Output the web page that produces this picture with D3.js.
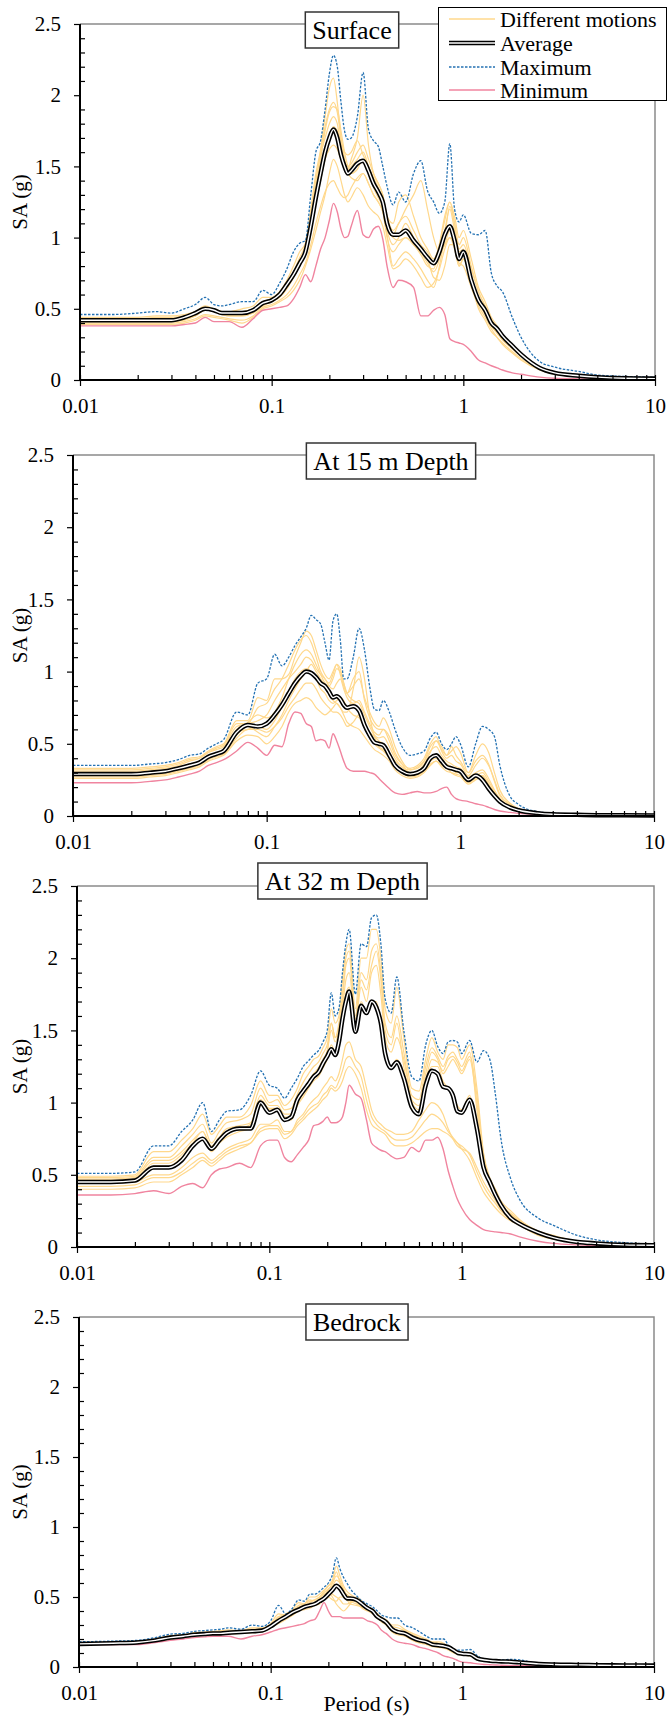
<!DOCTYPE html>
<html>
<head>
<meta charset="utf-8">
<script src="https://cdn.jsdelivr.net/npm/d3@7/dist/d3.min.js"></script>
<style>
  body { margin: 0; background: #fff; }
  svg { display: block; }
</style>
</head>
<body>
<svg id="chart" width="667" height="1716"></svg>
<script>
// ---- data ----
const periods = [0.01,0.015,0.02,0.025,0.03,0.035,0.04,0.045,0.05,0.055,
  0.06,0.07,0.08,0.09,0.1,0.11,0.12,0.13,0.14,0.15,
  0.16,0.17,0.18,0.19,0.2,0.21,0.22,0.23,0.24,0.25,
  0.26,0.28,0.3,0.32,0.34,0.36,0.38,0.4,0.43,0.46,
  0.5,0.55,0.6,0.65,0.7,0.75,0.8,0.85,0.9,0.95,
  1.0,1.1,1.2,1.3,1.4,1.5,1.6,1.8,2.0,2.5,
  3.0,4.0,5.0,7.0,10];

const xTicks = [0.01, 0.1, 1, 10];
const xTickLabels = ["0.01", "0.1", "1", "10"];
const yTicks = [0, 0.5, 1, 1.5, 2, 2.5];
const yTickLabels = ["0", "0.5", "1", "1.5", "2", "2.5"];
const panelTitles = ["Surface", "At 15 m Depth", "At 32 m Depth", "Bedrock"];
const legendLabels = ["Different motions", "Average", "Maximum", "Minimum"];

// Surface
const surfaceMax = [0.46,0.46,0.47,0.48,0.47,0.50,0.53,0.58,0.53,0.52,
  0.53,0.55,0.55,0.63,0.60,0.68,0.78,0.90,0.96,0.98,
  1.30,1.60,1.68,1.90,2.15,2.28,2.20,1.95,1.75,1.69,
  1.70,1.85,2.16,1.76,1.68,1.64,1.50,1.36,1.23,1.32,
  1.25,1.45,1.54,1.33,1.25,1.17,1.25,1.66,1.20,1.11,
  1.16,1.03,1.02,1.05,0.75,0.66,0.62,0.44,0.30,0.13,
  0.09,0.06,0.035,0.025,0.02];
const surfaceAvg = [0.42,0.42,0.42,0.42,0.42,0.44,0.47,0.50,0.49,0.47,
  0.47,0.47,0.49,0.54,0.56,0.60,0.67,0.74,0.82,0.90,
  1.08,1.28,1.45,1.60,1.70,1.76,1.70,1.58,1.50,1.45,
  1.47,1.52,1.54,1.47,1.38,1.32,1.25,1.10,1.02,1.02,
  1.05,0.98,0.92,0.86,0.82,0.90,1.02,1.08,0.98,0.85,
  0.90,0.70,0.56,0.49,0.40,0.36,0.31,0.24,0.18,0.085,
  0.05,0.03,0.02,0.012,0.01];
const surfaceMin = [0.38,0.38,0.38,0.38,0.38,0.39,0.40,0.44,0.41,0.41,
  0.41,0.37,0.43,0.49,0.50,0.51,0.52,0.57,0.65,0.74,
  0.69,0.80,0.92,1.00,1.12,1.24,1.18,1.06,1.00,1.01,
  1.08,1.19,1.02,1.00,1.06,1.08,0.99,0.80,0.65,0.70,
  0.69,0.65,0.45,0.45,0.49,0.51,0.46,0.29,0.27,0.26,
  0.25,0.20,0.14,0.12,0.10,0.085,0.07,0.05,0.04,0.02,
  0.012,0.008,0.006,0.004,0.003];
const surfaceMotions = [
  [0.44,0.44,0.44,0.45,0.45,0.46,0.48,0.52,0.50,0.48, 0.48,0.50,0.52,0.58,0.58,0.62,0.70,0.80,0.90,0.96,
   1.20,1.45,1.62,1.85,2.05,2.12,1.95,1.70,1.55,1.48, 1.50,1.55,1.60,1.50,1.40,1.30,1.20,1.05,0.95,1.00,
   1.10,1.00,0.90,0.82,0.76,0.85,1.05,1.20,1.05,0.90, 0.92,0.72,0.55,0.46,0.38,0.33,0.28,0.22,0.17,0.08, 0.05,0.03,0.02,0.012,0.01],
  [0.41,0.41,0.41,0.41,0.41,0.42,0.45,0.49,0.48,0.46, 0.45,0.45,0.47,0.52,0.55,0.58,0.64,0.72,0.80,0.88,
   1.05,1.25,1.40,1.55,1.62,1.65,1.62,1.55,1.50,1.48, 1.55,1.70,2.00,1.65,1.45,1.38,1.30,1.15,1.05,1.10,
   1.20,1.30,1.40,1.20,1.00,0.90,0.95,1.00,0.92,0.80, 0.85,0.72,0.58,0.50,0.42,0.36,0.30,0.24,0.18,0.09, 0.05,0.03,0.02,0.012,0.01],
  [0.43,0.43,0.43,0.43,0.43,0.44,0.47,0.51,0.50,0.48, 0.47,0.48,0.50,0.55,0.56,0.60,0.66,0.74,0.84,0.92,
   1.10,1.35,1.55,1.75,1.88,1.92,1.90,1.75,1.60,1.50, 1.45,1.48,1.55,1.45,1.35,1.28,1.22,1.08,1.00,0.98,
   1.00,0.95,0.88,0.80,0.78,0.95,1.15,1.25,1.10,0.92, 0.95,0.78,0.62,0.52,0.42,0.36,0.31,0.24,0.18,0.09, 0.05,0.03,0.02,0.012,0.01],
  [0.40,0.40,0.40,0.40,0.40,0.41,0.43,0.46,0.45,0.44, 0.43,0.42,0.45,0.51,0.53,0.56,0.60,0.66,0.74,0.82,
   0.95,1.10,1.22,1.32,1.38,1.40,1.35,1.30,1.28,1.30, 1.35,1.42,1.45,1.38,1.30,1.25,1.18,1.02,0.80,0.85,
   0.90,0.85,0.78,0.70,0.65,0.80,1.00,1.22,1.10,0.95, 1.00,0.80,0.62,0.52,0.42,0.36,0.30,0.24,0.18,0.09, 0.05,0.03,0.02,0.012,0.01],
  [0.42,0.42,0.42,0.42,0.42,0.43,0.46,0.50,0.49,0.47, 0.46,0.46,0.48,0.53,0.55,0.59,0.65,0.73,0.82,0.90,
   1.05,1.25,1.42,1.58,1.70,1.78,1.75,1.68,1.60,1.58, 1.60,1.68,1.58,1.50,1.42,1.35,1.25,1.08,1.02,1.10,
   1.15,1.05,0.95,0.90,0.82,0.88,0.95,1.05,0.98,0.85, 0.88,0.70,0.55,0.47,0.38,0.33,0.29,0.22,0.17,0.08, 0.05,0.03,0.02,0.012,0.01],
  [0.42,0.42,0.42,0.42,0.42,0.43,0.45,0.49,0.48,0.46, 0.45,0.45,0.47,0.53,0.55,0.59,0.65,0.72,0.82,0.92,
   1.15,1.40,1.58,1.70,1.80,1.85,1.80,1.62,1.50,1.45, 1.42,1.40,1.45,1.38,1.30,1.25,1.18,1.00,0.90,0.95,
   1.00,0.95,0.90,0.85,0.72,0.70,0.80,0.95,0.95,0.82, 0.80,0.65,0.52,0.44,0.36,0.30,0.26,0.20,0.15,0.075, 0.045,0.025,0.015,0.01,0.008],
  [0.43,0.43,0.43,0.44,0.44,0.45,0.47,0.50,0.49,0.47, 0.47,0.47,0.49,0.55,0.57,0.61,0.68,0.76,0.86,0.95,
   1.15,1.40,1.60,1.78,1.90,1.95,1.88,1.70,1.55,1.50, 1.52,1.60,1.65,1.55,1.45,1.38,1.30,1.15,1.10,1.25,
   1.30,1.15,1.00,0.92,0.85,0.95,1.12,1.25,1.15,1.00, 1.05,0.85,0.65,0.55,0.44,0.38,0.32,0.25,0.19,0.09, 0.05,0.03,0.02,0.012,0.01],
  [0.39,0.39,0.39,0.39,0.39,0.40,0.42,0.45,0.44,0.43, 0.42,0.40,0.44,0.50,0.52,0.55,0.58,0.63,0.70,0.80,
   0.92,1.05,1.18,1.30,1.45,1.55,1.50,1.40,1.30,1.25, 1.28,1.35,1.30,1.22,1.18,1.15,1.08,0.95,0.78,0.80,
   0.85,0.80,0.72,0.65,0.68,0.78,0.92,1.00,0.95,0.80, 0.85,0.68,0.50,0.42,0.34,0.30,0.25,0.19,0.14,0.07, 0.04,0.025,0.015,0.01,0.008]
];

// At 15 m depth
const depth15Max = [0.35,0.35,0.35,0.36,0.37,0.39,0.42,0.43,0.47,0.50,
  0.53,0.72,0.70,0.92,0.95,1.12,1.04,1.10,1.18,1.24,
  1.30,1.39,1.36,1.33,1.20,1.08,1.35,1.40,1.22,0.95,
  0.95,1.10,1.30,1.15,0.90,0.74,0.73,0.80,0.72,0.60,
  0.48,0.42,0.43,0.45,0.54,0.58,0.50,0.46,0.50,0.55,
  0.50,0.34,0.50,0.62,0.60,0.55,0.35,0.14,0.08,0.03,
  0.02,0.012,0.01,0.008,0.007];
const depth15Avg = [0.29,0.29,0.29,0.30,0.31,0.33,0.35,0.37,0.41,0.43,
  0.45,0.58,0.63,0.62,0.64,0.70,0.77,0.85,0.92,0.97,
  1.00,0.99,0.96,0.92,0.90,0.86,0.82,0.83,0.81,0.77,
  0.75,0.76,0.73,0.63,0.56,0.51,0.50,0.49,0.42,0.35,
  0.31,0.29,0.30,0.33,0.40,0.42,0.38,0.34,0.33,0.32,
  0.31,0.25,0.28,0.25,0.19,0.14,0.10,0.06,0.04,0.02,
  0.012,0.008,0.006,0.005,0.004];
const depth15Min = [0.23,0.23,0.23,0.24,0.25,0.27,0.29,0.31,0.35,0.37,
  0.39,0.45,0.51,0.47,0.42,0.49,0.48,0.64,0.72,0.71,
  0.64,0.62,0.52,0.53,0.52,0.47,0.57,0.52,0.45,0.38,
  0.33,0.31,0.31,0.31,0.30,0.29,0.26,0.23,0.19,0.16,
  0.15,0.16,0.17,0.16,0.16,0.17,0.19,0.20,0.15,0.12,
  0.11,0.10,0.085,0.075,0.06,0.045,0.035,0.025,0.018,0.01,
  0.006,0.004,0.003,0.002,0.002];
const depth15Motions = [
  [0.33,0.33,0.33,0.34,0.35,0.37,0.40,0.41,0.45,0.48, 0.50,0.66,0.66,0.82,0.80,0.95,0.95,0.98,1.10,1.20,
   1.28,1.25,1.15,1.05,0.98,0.95,1.00,1.05,0.98,0.90, 0.85,0.95,1.00,0.80,0.68,0.62,0.60,0.60,0.52,0.42,
   0.36,0.33,0.35,0.40,0.50,0.55,0.45,0.40,0.42,0.38, 0.36,0.28,0.35,0.40,0.35,0.25,0.15,0.08,0.05,0.02, 0.012,0.008,0.006,0.005,0.004],
  [0.30,0.30,0.30,0.31,0.32,0.34,0.36,0.38,0.42,0.44, 0.46,0.60,0.65,0.70,0.68,0.72,0.82,0.95,1.05,1.12,
   1.15,1.12,1.05,0.98,0.92,0.90,0.95,1.02,1.00,0.92, 0.85,0.80,0.78,0.70,0.62,0.56,0.54,0.55,0.48,0.40,
   0.34,0.32,0.34,0.38,0.45,0.48,0.42,0.38,0.36,0.34, 0.33,0.27,0.30,0.32,0.26,0.18,0.12,0.07,0.045,0.02, 0.012,0.008,0.006,0.005,0.004],
  [0.28,0.28,0.28,0.29,0.30,0.32,0.34,0.36,0.40,0.42, 0.44,0.56,0.62,0.58,0.55,0.62,0.70,0.80,0.88,0.95,
   1.00,1.05,1.00,0.95,0.90,0.85,0.80,0.78,0.75,0.72, 0.72,0.88,1.10,0.95,0.70,0.55,0.48,0.46,0.42,0.38,
   0.34,0.30,0.30,0.33,0.38,0.40,0.36,0.33,0.32,0.31, 0.32,0.26,0.28,0.30,0.24,0.17,0.11,0.065,0.04,0.018, 0.011,0.007,0.005,0.004,0.003],
  [0.26,0.26,0.26,0.27,0.28,0.30,0.32,0.34,0.38,0.40, 0.42,0.52,0.56,0.55,0.50,0.55,0.62,0.72,0.78,0.80,
   0.82,0.80,0.75,0.72,0.70,0.72,0.75,0.78,0.75,0.70, 0.65,0.62,0.60,0.55,0.50,0.46,0.44,0.42,0.38,0.32,
   0.28,0.26,0.27,0.30,0.35,0.38,0.35,0.33,0.30,0.28, 0.27,0.22,0.25,0.27,0.20,0.14,0.09,0.055,0.035,0.016, 0.01,0.007,0.005,0.004,0.003],
  [0.31,0.31,0.31,0.32,0.33,0.35,0.38,0.40,0.44,0.46, 0.48,0.62,0.64,0.66,0.70,0.80,0.88,0.95,1.00,1.05,
   1.10,1.08,1.02,0.98,0.95,0.90,0.88,0.92,0.95,0.88, 0.82,0.78,0.80,0.72,0.64,0.58,0.56,0.60,0.55,0.44,
   0.36,0.30,0.31,0.36,0.44,0.52,0.48,0.42,0.48,0.42, 0.38,0.30,0.38,0.42,0.36,0.24,0.14,0.08,0.05,0.02, 0.012,0.008,0.006,0.005,0.004],
  [0.29,0.29,0.29,0.30,0.31,0.33,0.35,0.37,0.41,0.43, 0.45,0.58,0.60,0.62,0.60,0.66,0.76,0.86,0.95,1.00,
   1.02,1.00,0.95,0.88,0.85,0.80,0.78,0.80,0.82,0.80, 0.75,0.70,0.68,0.62,0.58,0.55,0.52,0.50,0.44,0.36,
   0.30,0.28,0.29,0.32,0.40,0.42,0.40,0.36,0.34,0.30, 0.30,0.24,0.27,0.28,0.22,0.16,0.10,0.06,0.04,0.018, 0.011,0.007,0.005,0.004,0.003],
  [0.32,0.32,0.32,0.33,0.34,0.36,0.39,0.40,0.44,0.47, 0.49,0.64,0.64,0.75,0.78,0.88,0.95,1.05,1.15,1.22,
   1.25,1.20,1.10,1.00,0.95,0.92,0.98,1.05,1.02,0.92, 0.85,0.90,0.95,0.82,0.72,0.65,0.62,0.68,0.60,0.48,
   0.38,0.32,0.33,0.38,0.48,0.52,0.46,0.42,0.45,0.48, 0.44,0.30,0.42,0.50,0.44,0.30,0.18,0.09,0.05,0.02, 0.012,0.008,0.006,0.005,0.004],
  [0.27,0.27,0.27,0.28,0.29,0.31,0.33,0.35,0.39,0.41, 0.43,0.54,0.60,0.60,0.58,0.62,0.68,0.76,0.82,0.88,
   0.92,0.92,0.88,0.82,0.78,0.75,0.72,0.72,0.70,0.66, 0.62,0.65,0.70,0.62,0.55,0.50,0.47,0.45,0.40,0.34,
   0.30,0.27,0.28,0.31,0.36,0.38,0.34,0.31,0.30,0.29, 0.28,0.23,0.26,0.28,0.22,0.15,0.10,0.06,0.038,0.017, 0.01,0.007,0.005,0.004,0.003]
];

// At 32 m depth
const depth32Max = [0.51,0.51,0.52,0.70,0.70,0.80,0.88,1.00,0.80,0.88,
  0.94,0.95,1.05,1.22,1.12,1.10,1.03,1.10,1.17,1.25,
  1.29,1.33,1.36,1.42,1.50,1.76,1.60,1.65,1.90,2.10,
  2.20,1.75,2.10,2.08,2.28,2.30,2.10,1.72,1.62,1.87,
  1.50,1.18,1.15,1.40,1.50,1.39,1.34,1.42,1.43,1.42,
  1.34,1.43,1.28,1.36,1.30,1.05,0.75,0.47,0.33,0.20,
  0.15,0.08,0.05,0.03,0.02];
const depth32Avg = [0.45,0.45,0.46,0.55,0.55,0.60,0.70,0.75,0.68,0.74,
  0.79,0.82,0.82,1.00,0.93,0.95,0.88,0.90,1.02,1.08,
  1.13,1.18,1.21,1.27,1.32,1.37,1.33,1.42,1.58,1.70,
  1.77,1.49,1.67,1.62,1.70,1.66,1.55,1.34,1.24,1.28,
  1.17,0.97,0.92,1.12,1.22,1.20,1.11,1.10,1.05,0.94,
  0.93,1.02,0.82,0.55,0.45,0.36,0.29,0.20,0.16,0.10,
  0.065,0.035,0.025,0.015,0.012];
const depth32Min = [0.36,0.36,0.37,0.39,0.37,0.42,0.44,0.41,0.50,0.54,
  0.55,0.58,0.55,0.70,0.74,0.74,0.62,0.59,0.64,0.69,
  0.74,0.84,0.85,0.87,0.90,0.86,0.86,0.87,0.90,1.00,
  1.12,1.06,1.03,0.88,0.72,0.69,0.67,0.66,0.63,0.61,
  0.62,0.69,0.66,0.74,0.74,0.76,0.68,0.53,0.42,0.33,
  0.27,0.19,0.15,0.12,0.11,0.105,0.10,0.09,0.07,0.04,
  0.025,0.015,0.01,0.008,0.006];
const depth32Motions = [
  [0.49,0.49,0.50,0.66,0.66,0.74,0.82,0.92,0.78,0.84, 0.90,0.90,0.98,1.15,1.05,1.05,0.98,1.02,1.10,1.20,
   1.25,1.30,1.32,1.38,1.45,1.65,1.55,1.60,1.85,2.05, 2.10,1.65,2.00,2.00,2.20,2.20,2.00,1.65,1.55,1.80,
   1.45,1.10,1.08,1.30,1.45,1.35,1.30,1.40,1.40,1.38, 1.30,1.40,1.10,0.65,0.48,0.40,0.32,0.25,0.19,0.11, 0.08,0.04,0.025,0.015,0.012],
  [0.48,0.48,0.49,0.62,0.62,0.70,0.78,0.85,0.72,0.80, 0.86,0.88,0.92,1.10,1.00,1.02,0.95,0.96,1.06,1.14,
   1.20,1.25,1.28,1.34,1.40,1.55,1.45,1.55,1.75,2.00, 2.05,1.60,1.90,1.85,2.05,2.10,1.90,1.55,1.45,1.60,
   1.35,1.05,1.02,1.25,1.38,1.32,1.25,1.32,1.35,1.30, 1.25,1.35,0.95,0.60,0.45,0.38,0.30,0.23,0.18,0.10, 0.07,0.035,0.022,0.014,0.011],
  [0.46,0.46,0.47,0.56,0.56,0.62,0.70,0.76,0.66,0.72, 0.76,0.80,0.82,0.98,0.95,0.95,0.88,0.88,0.98,1.04,
   1.10,1.15,1.18,1.24,1.30,1.40,1.35,1.42,1.58,1.75, 1.80,1.50,1.70,1.62,1.70,1.70,1.55,1.35,1.25,1.30,
   1.20,1.00,0.95,1.15,1.25,1.25,1.15,1.10,1.05,0.98, 0.95,1.05,0.80,0.55,0.42,0.35,0.28,0.22,0.17,0.10, 0.07,0.035,0.025,0.015,0.012],
  [0.44,0.44,0.45,0.50,0.50,0.55,0.62,0.65,0.60,0.64, 0.68,0.72,0.75,0.85,0.85,0.88,0.80,0.80,0.88,0.92,
   0.98,1.02,1.05,1.10,1.14,1.18,1.15,1.20,1.30,1.40, 1.42,1.30,1.25,1.10,0.95,0.88,0.85,0.82,0.80,0.78,
   0.78,0.80,0.88,0.95,1.00,0.98,0.92,0.82,0.75,0.70, 0.68,0.65,0.55,0.45,0.38,0.32,0.26,0.20,0.16,0.09, 0.06,0.03,0.02,0.012,0.01],
  [0.40,0.40,0.41,0.45,0.45,0.50,0.55,0.60,0.56,0.60, 0.64,0.68,0.72,0.80,0.82,0.82,0.75,0.78,0.84,0.88,
   0.92,0.95,0.98,1.02,1.05,1.10,1.08,1.10,1.15,1.22, 1.25,1.20,1.10,0.95,0.85,0.82,0.80,0.78,0.72,0.70,
   0.70,0.72,0.76,0.80,0.82,0.82,0.80,0.78,0.75,0.72, 0.68,0.60,0.48,0.38,0.32,0.27,0.23,0.18,0.15,0.08, 0.055,0.03,0.02,0.012,0.01],
  [0.47,0.47,0.48,0.60,0.60,0.66,0.74,0.80,0.70,0.76, 0.82,0.84,0.86,1.05,0.98,0.98,0.92,0.92,1.02,1.08,
   1.15,1.20,1.24,1.30,1.36,1.50,1.42,1.50,1.65,1.85, 1.90,1.55,1.80,1.70,1.90,1.95,1.75,1.45,1.35,1.45,
   1.30,1.02,0.98,1.20,1.35,1.30,1.20,1.25,1.30,1.25, 1.20,1.30,1.00,0.60,0.45,0.37,0.30,0.23,0.18,0.10, 0.07,0.035,0.022,0.014,0.011],
  [0.45,0.45,0.46,0.58,0.58,0.64,0.72,0.80,0.68,0.74, 0.80,0.82,0.85,1.02,0.96,0.96,0.90,0.90,1.00,1.06,
   1.12,1.18,1.22,1.28,1.35,1.55,1.45,1.52,1.70,1.95, 2.00,1.58,1.85,1.78,1.95,2.05,1.85,1.50,1.40,1.55,
   1.25,0.95,0.92,1.15,1.30,1.28,1.22,1.30,1.32,1.28, 1.22,1.32,1.05,0.62,0.46,0.38,0.30,0.23,0.18,0.10, 0.07,0.035,0.022,0.014,0.011],
  [0.42,0.42,0.43,0.48,0.48,0.52,0.58,0.62,0.58,0.62, 0.66,0.70,0.72,0.82,0.84,0.84,0.78,0.80,0.86,0.90,
   0.95,0.98,1.00,1.05,1.08,1.12,1.10,1.15,1.22,1.30, 1.32,1.25,1.18,1.02,0.90,0.85,0.82,0.80,0.76,0.74,
   0.74,0.76,0.82,0.88,0.92,0.90,0.86,0.80,0.76,0.72, 0.70,0.64,0.52,0.42,0.35,0.30,0.25,0.19,0.155,0.085, 0.058,0.03,0.02,0.012,0.01]
];

// Bedrock
const bedrockMax = [0.18,0.185,0.19,0.21,0.235,0.24,0.255,0.26,0.265,0.27,
  0.28,0.27,0.30,0.29,0.33,0.44,0.38,0.42,0.48,0.47,
  0.52,0.52,0.54,0.57,0.60,0.66,0.78,0.70,0.64,0.60,
  0.56,0.51,0.47,0.45,0.43,0.40,0.37,0.36,0.35,0.35,
  0.30,0.28,0.25,0.22,0.20,0.20,0.20,0.15,0.12,0.12,
  0.12,0.125,0.08,0.055,0.05,0.05,0.05,0.055,0.05,0.025,
  0.02,0.018,0.016,0.014,0.013];
const bedrockAvg = [0.165,0.17,0.175,0.19,0.21,0.22,0.23,0.235,0.24,0.24,
  0.245,0.25,0.255,0.26,0.29,0.33,0.36,0.39,0.41,0.43,
  0.44,0.45,0.47,0.49,0.52,0.55,0.58,0.56,0.52,0.49,
  0.49,0.48,0.45,0.42,0.40,0.36,0.34,0.32,0.27,0.25,
  0.24,0.21,0.19,0.18,0.16,0.155,0.15,0.14,0.12,0.10,
  0.095,0.09,0.06,0.05,0.045,0.042,0.04,0.038,0.033,0.022,
  0.018,0.015,0.013,0.011,0.01];
const bedrockMin = [0.16,0.16,0.16,0.175,0.19,0.20,0.21,0.215,0.22,0.22,
  0.22,0.20,0.22,0.23,0.25,0.27,0.28,0.29,0.30,0.31,
  0.33,0.34,0.40,0.46,0.40,0.36,0.36,0.36,0.35,0.35,
  0.35,0.35,0.35,0.33,0.32,0.30,0.26,0.24,0.20,0.18,
  0.17,0.16,0.14,0.13,0.115,0.10,0.08,0.07,0.06,0.045,
  0.035,0.03,0.022,0.018,0.016,0.014,0.013,0.011,0.01,0.008,
  0.007,0.006,0.005,0.005,0.005];
const bedrockMotions = [
  [0.175,0.18,0.185,0.20,0.225,0.23,0.245,0.25,0.255,0.26, 0.265,0.26,0.28,0.28,0.31,0.38,0.37,0.41,0.46,0.45,
   0.50,0.50,0.52,0.55,0.58,0.62,0.72,0.65,0.58,0.54, 0.52,0.49,0.46,0.43,0.41,0.38,0.35,0.34,0.30,0.30,
   0.27,0.24,0.22,0.20,0.18,0.18,0.17,0.14,0.12,0.11, 0.10,0.10,0.07,0.052,0.047,0.045,0.044,0.045,0.04,0.024, 0.019,0.016,0.014,0.012,0.011],
  [0.17,0.175,0.18,0.195,0.215,0.225,0.235,0.24,0.245,0.25, 0.25,0.255,0.26,0.27,0.30,0.34,0.38,0.40,0.43,0.44,
   0.46,0.48,0.50,0.54,0.58,0.60,0.65,0.62,0.56,0.50, 0.48,0.47,0.44,0.42,0.40,0.37,0.34,0.32,0.28,0.26,
   0.25,0.22,0.20,0.18,0.17,0.16,0.155,0.14,0.12,0.10, 0.095,0.09,0.06,0.05,0.045,0.042,0.04,0.04,0.035,0.022, 0.018,0.015,0.013,0.011,0.01],
  [0.16,0.165,0.17,0.185,0.20,0.215,0.225,0.23,0.235,0.235, 0.24,0.24,0.25,0.255,0.28,0.32,0.35,0.37,0.40,0.42,
   0.43,0.44,0.46,0.50,0.55,0.52,0.50,0.48,0.45,0.45, 0.46,0.48,0.44,0.41,0.39,0.36,0.33,0.31,0.26,0.24,
   0.23,0.20,0.18,0.17,0.155,0.15,0.14,0.13,0.11,0.095, 0.09,0.085,0.055,0.048,0.043,0.04,0.038,0.037,0.032,0.021, 0.017,0.014,0.012,0.011,0.01],
  [0.165,0.17,0.175,0.19,0.21,0.22,0.23,0.235,0.24,0.24, 0.245,0.25,0.255,0.26,0.29,0.33,0.36,0.39,0.42,0.43,
   0.45,0.46,0.49,0.52,0.53,0.50,0.45,0.42,0.40,0.42, 0.45,0.50,0.47,0.43,0.40,0.37,0.34,0.32,0.27,0.25,
   0.24,0.21,0.19,0.175,0.16,0.15,0.145,0.135,0.115,0.10, 0.092,0.088,0.058,0.05,0.044,0.041,0.039,0.038,0.033,0.021, 0.017,0.014,0.012,0.011,0.01],
  [0.17,0.175,0.18,0.195,0.21,0.22,0.235,0.24,0.245,0.245, 0.25,0.25,0.26,0.265,0.30,0.35,0.38,0.40,0.42,0.45,
   0.48,0.47,0.48,0.50,0.55,0.60,0.68,0.60,0.52,0.48, 0.45,0.44,0.43,0.42,0.40,0.36,0.33,0.31,0.26,0.24,
   0.24,0.21,0.19,0.18,0.16,0.155,0.15,0.14,0.12,0.10, 0.095,0.09,0.06,0.05,0.045,0.042,0.04,0.04,0.034,0.022, 0.018,0.015,0.013,0.011,0.01],
  [0.16,0.165,0.17,0.18,0.20,0.21,0.22,0.225,0.23,0.23, 0.235,0.24,0.245,0.25,0.28,0.31,0.34,0.37,0.40,0.41,
   0.42,0.44,0.45,0.48,0.50,0.54,0.58,0.56,0.54,0.52, 0.50,0.46,0.42,0.40,0.38,0.35,0.32,0.30,0.25,0.23,
   0.22,0.19,0.17,0.16,0.145,0.14,0.135,0.12,0.10,0.09, 0.085,0.08,0.052,0.045,0.042,0.04,0.037,0.036,0.03,0.02, 0.016,0.013,0.012,0.01,0.009],
  [0.17,0.175,0.18,0.195,0.215,0.225,0.24,0.245,0.25,0.25, 0.255,0.255,0.27,0.27,0.30,0.36,0.37,0.40,0.44,0.45,
   0.47,0.48,0.50,0.53,0.56,0.58,0.62,0.60,0.55,0.51, 0.50,0.48,0.45,0.43,0.41,0.38,0.35,0.33,0.29,0.28,
   0.26,0.23,0.21,0.19,0.175,0.17,0.16,0.14,0.12,0.105, 0.10,0.095,0.065,0.05,0.046,0.043,0.041,0.042,0.037,0.023, 0.018,0.015,0.013,0.011,0.01],
  [0.165,0.17,0.17,0.185,0.205,0.215,0.225,0.23,0.235,0.235, 0.24,0.245,0.25,0.255,0.285,0.32,0.35,0.38,0.41,0.43,
   0.44,0.45,0.47,0.49,0.50,0.48,0.47,0.50,0.50,0.48, 0.47,0.45,0.43,0.41,0.39,0.36,0.33,0.31,0.26,0.24,
   0.23,0.20,0.18,0.17,0.155,0.15,0.14,0.13,0.11,0.095, 0.09,0.085,0.056,0.048,0.043,0.04,0.038,0.037,0.032,0.021, 0.017,0.014,0.012,0.011,0.01]
];

// ---- layout ----
const font = '"Liberation Serif", "Times New Roman", serif';
const colMotion = "#FFD88C", colMax = "#2472B3", colMin = "#F0849F";

const panels = [
  { title: panelTitles[0], max: surfaceMax, avg: surfaceAvg, min: surfaceMin, motions: surfaceMotions,
    left: 80, right: 655, top: 24, bottom: 380, titleX: 352, titleY: 12, legend: true },
  { title: panelTitles[1], max: depth15Max, avg: depth15Avg, min: depth15Min, motions: depth15Motions,
    left: 73, right: 654, top: 455, bottom: 816, titleX: 391, titleY: 443 },
  { title: panelTitles[2], max: depth32Max, avg: depth32Avg, min: depth32Min, motions: depth32Motions,
    left: 77, right: 654, top: 886, bottom: 1247, titleX: 342.5, titleY: 863 },
  { title: panelTitles[3], max: bedrockMax, avg: bedrockAvg, min: bedrockMin, motions: bedrockMotions,
    left: 79, right: 654, top: 1317, bottom: 1667, titleX: 357, titleY: 1304, xLabel: "Period (s)" }
];

const svg = d3.select("#chart");
svg.append("rect").attr("width", 667).attr("height", 1716).attr("fill", "#fff");

const minorX = [];
[0.01, 0.1, 1].forEach(dec => { for (let k = 2; k <= 9; k++) minorX.push(+(k * dec).toPrecision(3)); });
const minorY = d3.range(0, 26).map(i => i / 10).filter(v => !yTicks.includes(v));

panels.forEach(p => {
  const x = d3.scaleLog().domain([0.01, 10]).range([p.left, p.right]);
  const y = d3.scaleLinear().domain([0, 2.5]).range([p.bottom, p.top]);
  const g = svg.append("g");

  // gray frame top + right
  g.append("path")
    .attr("d", `M${p.left},${p.top}H${p.right}V${p.bottom}`)
    .attr("fill", "none").attr("stroke", "#8a8a8a").attr("stroke-width", 1.5);

  const line = d3.line()
    .x((d, i) => x(periods[i]))
    .y(d => y(d))
    .curve(d3.curveMonotoneX);

  g.selectAll(".motion").data(p.motions).enter().append("path")
    .attr("d", line).attr("fill", "none")
    .attr("stroke", colMotion).attr("stroke-width", 1.2);

  g.append("path").attr("d", line(p.min)).attr("fill", "none")
    .attr("stroke", colMin).attr("stroke-width", 1.4);
  g.append("path").attr("d", line(p.max)).attr("fill", "none")
    .attr("stroke", colMax).attr("stroke-width", 1.3).attr("stroke-dasharray", "2.5,1.5");
  g.append("path").attr("d", line(p.avg)).attr("fill", "none")
    .attr("stroke", "#000").attr("stroke-width", 4.5);
  g.append("path").attr("d", line(p.avg)).attr("fill", "none")
    .attr("stroke", "#fff").attr("stroke-width", 1.4);

  // axes
  const xAxis = g.append("g").attr("transform", `translate(0,${p.bottom})`)
    .call(d3.axisBottom(x).tickValues(xTicks).tickFormat((d, i) => xTickLabels[i]).tickSize(6).tickSizeOuter(0));
  xAxis.selectAll("text").attr("y", 33).attr("dy", null);
  g.append("g").attr("transform", `translate(0,${p.bottom})`)
    .call(d3.axisTop(x).tickValues(minorX.concat(xTicks)).tickFormat("").tickSize(5).tickSizeOuter(0));

  g.append("g").attr("transform", `translate(${p.left},0)`)
    .call(d3.axisLeft(y).tickValues(yTicks).tickFormat((d, i) => yTickLabels[i]).tickSize(6).tickPadding(13).tickSizeOuter(0));
  g.append("g").attr("transform", `translate(${p.left},0)`)
    .call(d3.axisRight(y).tickValues(minorY).tickFormat("").tickSize(5).tickSizeOuter(0));

  g.selectAll(".domain").remove();
  g.selectAll(".tick line").attr("stroke", "#000").attr("stroke-width", 1.2);
  g.selectAll(".tick text").attr("fill", "#000").style("font-family", font).style("font-size", "21px");

  g.append("line").attr("x1", p.left).attr("x2", p.left).attr("y1", p.top).attr("y2", p.bottom + 1)
    .attr("stroke", "#000").attr("stroke-width", 2);
  g.append("line").attr("x1", p.left - 1).attr("x2", p.right).attr("y1", p.bottom).attr("y2", p.bottom)
    .attr("stroke", "#000").attr("stroke-width", 2);

  // y label
  g.append("text")
    .attr("transform", `translate(20,${(p.top + p.bottom) / 2}) rotate(-90)`)
    .attr("text-anchor", "middle").attr("dominant-baseline", "central")
    .style("font-family", font).style("font-size", "21px").text("SA (g)");

  if (p.xLabel) {
    g.append("text").attr("x", (p.left + p.right) / 2).attr("y", 1711)
      .attr("text-anchor", "middle").style("font-family", font).style("font-size", "22px").text(p.xLabel);
  }

  // title box
  const tb = g.append("g");
  const rect = tb.append("rect").attr("fill", "#fff").attr("stroke", "#333").attr("stroke-width", 1.5);
  const tt = tb.append("text").attr("x", p.titleX).attr("y", p.titleY + 27)
    .attr("text-anchor", "middle").style("font-family", font).style("font-size", "26px").text(p.title);
  const tw = tt.node().getComputedTextLength();
  rect.attr("x", p.titleX - tw / 2 - 7).attr("y", p.titleY).attr("width", tw + 14).attr("height", 36);

  if (p.legend) {
    const lg = g.append("g");
    lg.append("rect").attr("x", 438.5).attr("y", 7.5).attr("width", 228).attr("height", 93)
      .attr("fill", "#fff").attr("stroke", "#000").attr("stroke-width", 1);
    const rows = [19, 43, 67, 90];
    const styles = [
      [{ c: colMotion, w: 1.5 }],
      [{ c: "#000", w: 4.5 }, { c: "#fff", w: 1.4 }],
      [{ c: colMax, w: 1.3, dash: "2.5,1.5" }],
      [{ c: colMin, w: 1.5 }]
    ];
    legendLabels.forEach((lab, i) => {
      styles[i].forEach(s => {
        lg.append("line").attr("x1", 449).attr("x2", 495).attr("y1", rows[i]).attr("y2", rows[i])
          .attr("stroke", s.c).attr("stroke-width", s.w).attr("stroke-dasharray", s.dash || null);
      });
      lg.append("text").attr("x", 500).attr("y", rows[i] + 8)
        .style("font-family", font).style("font-size", "22px").text(lab);
    });
  }
});
</script>
</body>
</html>
